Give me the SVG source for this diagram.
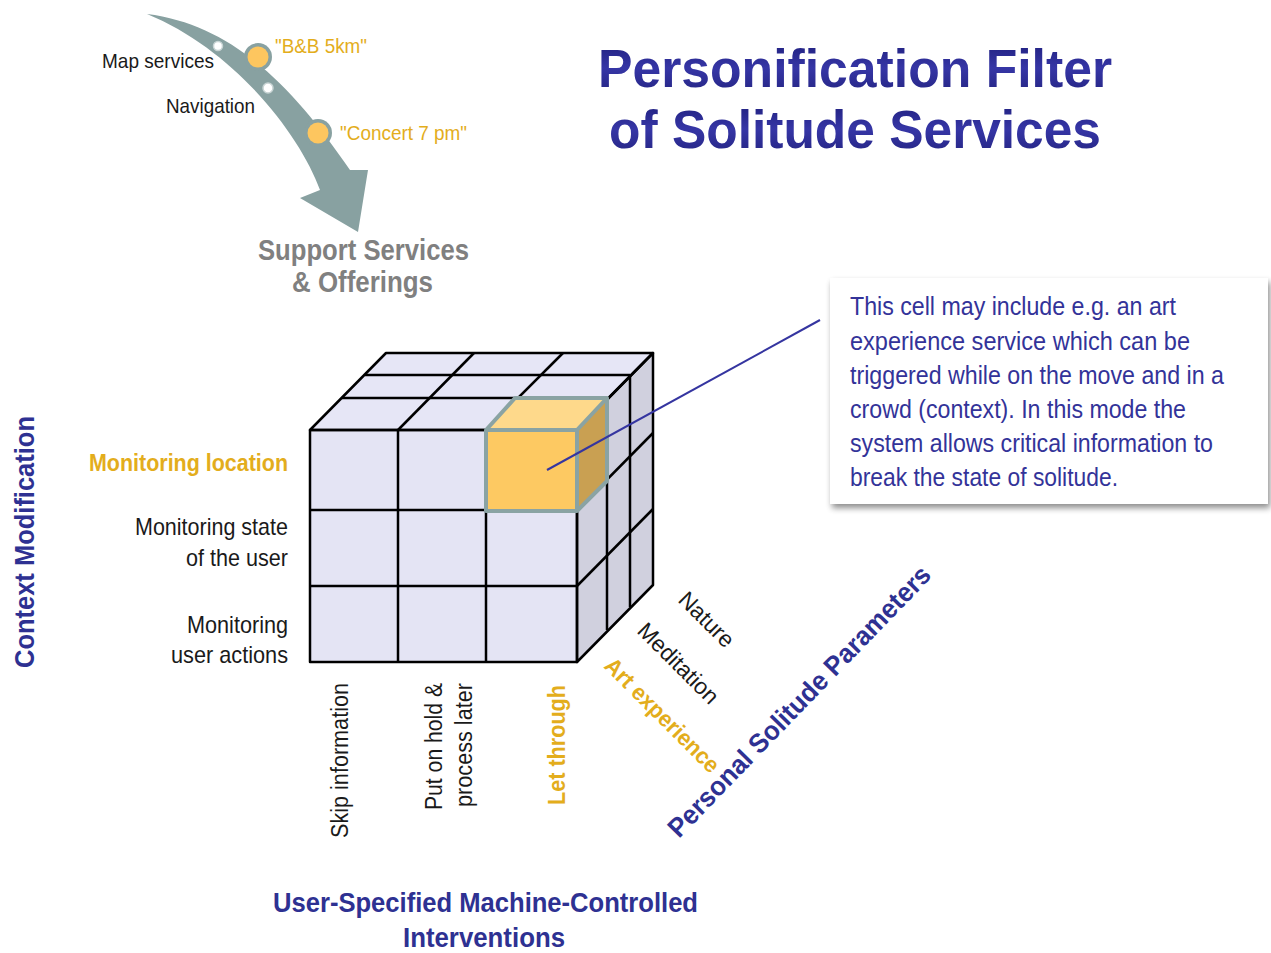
<svg xmlns="http://www.w3.org/2000/svg" width="1271" height="953" viewBox="0 0 1271 953">
<defs>
<style>
.n{font-family:"Liberation Sans Narrow","Liberation Sans",Arial,sans-serif}
.b{font-weight:bold}
.blue{fill:#2e3192}
.gold{fill:#e3ad1c}
.blk{fill:#1a1a1a}
.edge{stroke:#000;stroke-width:2.5;fill:none;stroke-linejoin:round}
</style>
<filter id="sh" x="-5%" y="-5%" width="112%" height="118%">
<feGaussianBlur in="SourceAlpha" stdDeviation="3"/>
<feOffset dx="2" dy="4" result="o"/>
<feComponentTransfer><feFuncA type="linear" slope="0.45"/></feComponentTransfer>
<feMerge><feMergeNode/><feMergeNode in="SourceGraphic"/></feMerge>
</filter>
<linearGradient id="tg" x1="0" y1="0" x2="0" y2="1">
<stop offset="0" stop-color="#1d1d78"/>
<stop offset="0.5" stop-color="#3636a6"/>
<stop offset="1" stop-color="#22227e"/>
</linearGradient>
</defs>
<rect width="1271" height="953" fill="#fff"/>

<g id="title">
<text x="598" y="87" class="b" font-family="Liberation Sans,Arial,sans-serif" font-size="54" fill="url(#tg)" textLength="514" lengthAdjust="spacingAndGlyphs">Personification Filter</text>
<text x="609" y="148" class="b" font-family="Liberation Sans,Arial,sans-serif" font-size="54" fill="url(#tg)" textLength="492" lengthAdjust="spacingAndGlyphs">of Solitude Services</text>
</g>

<g id="support-arrow">
<path d="M147,14 C235,25 295,90 350,170 L368,170 L358,232 L300,198 L320,190 C300,135 235,50 147,14 Z" fill="#88a1a1"/>
<circle cx="218" cy="46" r="4.5" fill="#fff" stroke="#c8d4d4" stroke-width="1.5"/>
<circle cx="268" cy="88" r="5" fill="#fff" stroke="#c8d4d4" stroke-width="1.5"/>
<circle cx="258" cy="57" r="14" fill="#88a1a1"/>
<circle cx="258" cy="57" r="10.5" fill="#fdc65f"/>
<circle cx="318" cy="133" r="14" fill="#88a1a1"/>
<circle cx="318" cy="133" r="10.5" fill="#fdc65f"/>
<text x="102" y="68" class="n blk" font-size="21" textLength="112" lengthAdjust="spacingAndGlyphs">Map services</text>
<text x="166" y="113" class="n blk" font-size="21" textLength="89" lengthAdjust="spacingAndGlyphs">Navigation</text>
<text x="275" y="53" class="n gold" font-size="21" textLength="92" lengthAdjust="spacingAndGlyphs">"B&amp;B 5km"</text>
<text x="340" y="140" class="n gold" font-size="21" textLength="127" lengthAdjust="spacingAndGlyphs">"Concert 7 pm"</text>
<text x="258" y="260" class="n b" font-size="29" fill="#808080" textLength="211" lengthAdjust="spacingAndGlyphs">Support Services</text>
<text x="292" y="292" class="n b" font-size="29" fill="#808080" textLength="141" lengthAdjust="spacingAndGlyphs">&amp; Offerings</text>
</g>

<g id="cube">
<polygon points="310,430 577,430 577,662 310,662" fill="#e4e4f4"/>
<polygon points="310,430 386,353 653,353 577,430" fill="#e6e6f6"/>
<polygon points="577,430 653,353 653,585 577,662" fill="#d0d0de"/>
<g class="edge">
<polygon points="310,430 577,430 577,662 310,662"/>
<polygon points="310,430 386,353 653,353 577,430"/>
<polygon points="577,430 653,353 653,585 577,662"/>
<line x1="398" y1="430" x2="398" y2="662"/>
<line x1="486" y1="430" x2="486" y2="662"/>
<line x1="310" y1="510" x2="577" y2="510"/>
<line x1="310" y1="586" x2="577" y2="586"/>
<line x1="342" y1="398" x2="607" y2="398"/>
<line x1="365" y1="375" x2="630" y2="375"/>
<line x1="398" y1="430" x2="474" y2="353"/>
<line x1="486" y1="430" x2="563" y2="353"/>
<line x1="607" y1="398" x2="607" y2="630"/>
<line x1="630" y1="375" x2="630" y2="607"/>
<line x1="577" y1="510" x2="653" y2="433"/>
<line x1="577" y1="586" x2="653" y2="509"/>
</g>
</g>

<g id="highlight-cell">
<polygon points="486,430 577,430 577,511 486,511" fill="#fdc962"/>
<polygon points="486,430 515,398 607,398 577,430" fill="#fed98b"/>
<polygon points="577,430 607,398 607,481 577,511" fill="#c9a052"/>
<g fill="none" stroke="#8aa3a3" stroke-width="4" stroke-linejoin="round">
<polygon points="486,430 577,430 577,511 486,511"/>
<polyline points="486,430 515,398 607,398 577,430"/>
<polyline points="607,398 607,481 577,511"/>
</g>
</g>

<g id="connectors">
<line x1="547" y1="470" x2="820" y2="320" stroke="#3535a0" stroke-width="2"/>
</g>

<g id="callout">
<rect x="830" y="278" width="438" height="226" fill="#fff" filter="url(#sh)"/>
<g class="n" font-size="25" fill="#333399">
<text x="850" y="315" textLength="326" lengthAdjust="spacingAndGlyphs">This cell may include e.g. an art</text>
<text x="850" y="350" textLength="340" lengthAdjust="spacingAndGlyphs">experience  service  which can be</text>
<text x="850" y="384" textLength="374" lengthAdjust="spacingAndGlyphs">triggered  while on the move and in a</text>
<text x="850" y="418" textLength="336" lengthAdjust="spacingAndGlyphs">crowd (context).  In this mode the</text>
<text x="850" y="452" textLength="363" lengthAdjust="spacingAndGlyphs">system allows critical information  to</text>
<text x="850" y="486" textLength="268" lengthAdjust="spacingAndGlyphs">break the state of solitude.</text>
</g>
</g>

<g id="axis-context">
<text transform="translate(34,668) rotate(-90)" class="n b blue" font-size="28" textLength="252" lengthAdjust="spacingAndGlyphs">Context Modification</text>
<text x="288" y="471" text-anchor="end" class="n b gold" font-size="24" textLength="199" lengthAdjust="spacingAndGlyphs">Monitoring location</text>
<text x="288" y="535" text-anchor="end" class="n blk" font-size="24" textLength="153" lengthAdjust="spacingAndGlyphs">Monitoring state</text>
<text x="288" y="566" text-anchor="end" class="n blk" font-size="24" textLength="102" lengthAdjust="spacingAndGlyphs">of the user</text>
<text x="288" y="633" text-anchor="end" class="n blk" font-size="24" textLength="101" lengthAdjust="spacingAndGlyphs">Monitoring</text>
<text x="288" y="663" text-anchor="end" class="n blk" font-size="24" textLength="117" lengthAdjust="spacingAndGlyphs">user actions</text>
</g>

<g id="axis-interventions">
<text transform="translate(348,838) rotate(-90)" class="n blk" font-size="23" textLength="155" lengthAdjust="spacingAndGlyphs">Skip information</text>
<text transform="translate(442,810) rotate(-90)" class="n blk" font-size="23" textLength="127" lengthAdjust="spacingAndGlyphs">Put on hold &amp;</text>
<text transform="translate(472,807) rotate(-90)" class="n blk" font-size="23" textLength="124" lengthAdjust="spacingAndGlyphs">process later</text>
<text transform="translate(565,805) rotate(-90)" class="n b gold" font-size="23" textLength="120" lengthAdjust="spacingAndGlyphs">Let through</text>
<text x="273" y="912" class="n b blue" font-size="28" textLength="425" lengthAdjust="spacingAndGlyphs">User-Specified Machine-Controlled</text>
<text x="403" y="947" class="n b blue" font-size="27" textLength="162" lengthAdjust="spacingAndGlyphs">Interventions</text>
</g>

<g id="axis-solitude">
<text transform="translate(677,601) rotate(45)" class="n blk" font-size="23" textLength="68" lengthAdjust="spacingAndGlyphs">Nature</text>
<text transform="translate(636,632) rotate(45)" class="n blk" font-size="23" textLength="104" lengthAdjust="spacingAndGlyphs">Meditation</text>
<text transform="translate(603,667) rotate(45)" class="n b gold" font-size="23" textLength="152" lengthAdjust="spacingAndGlyphs">Art experience</text>
<text transform="translate(679,839) rotate(-46)" class="n b blue" font-size="27" textLength="365" lengthAdjust="spacingAndGlyphs">Personal Solitude Parameters</text>
</g>
</svg>
